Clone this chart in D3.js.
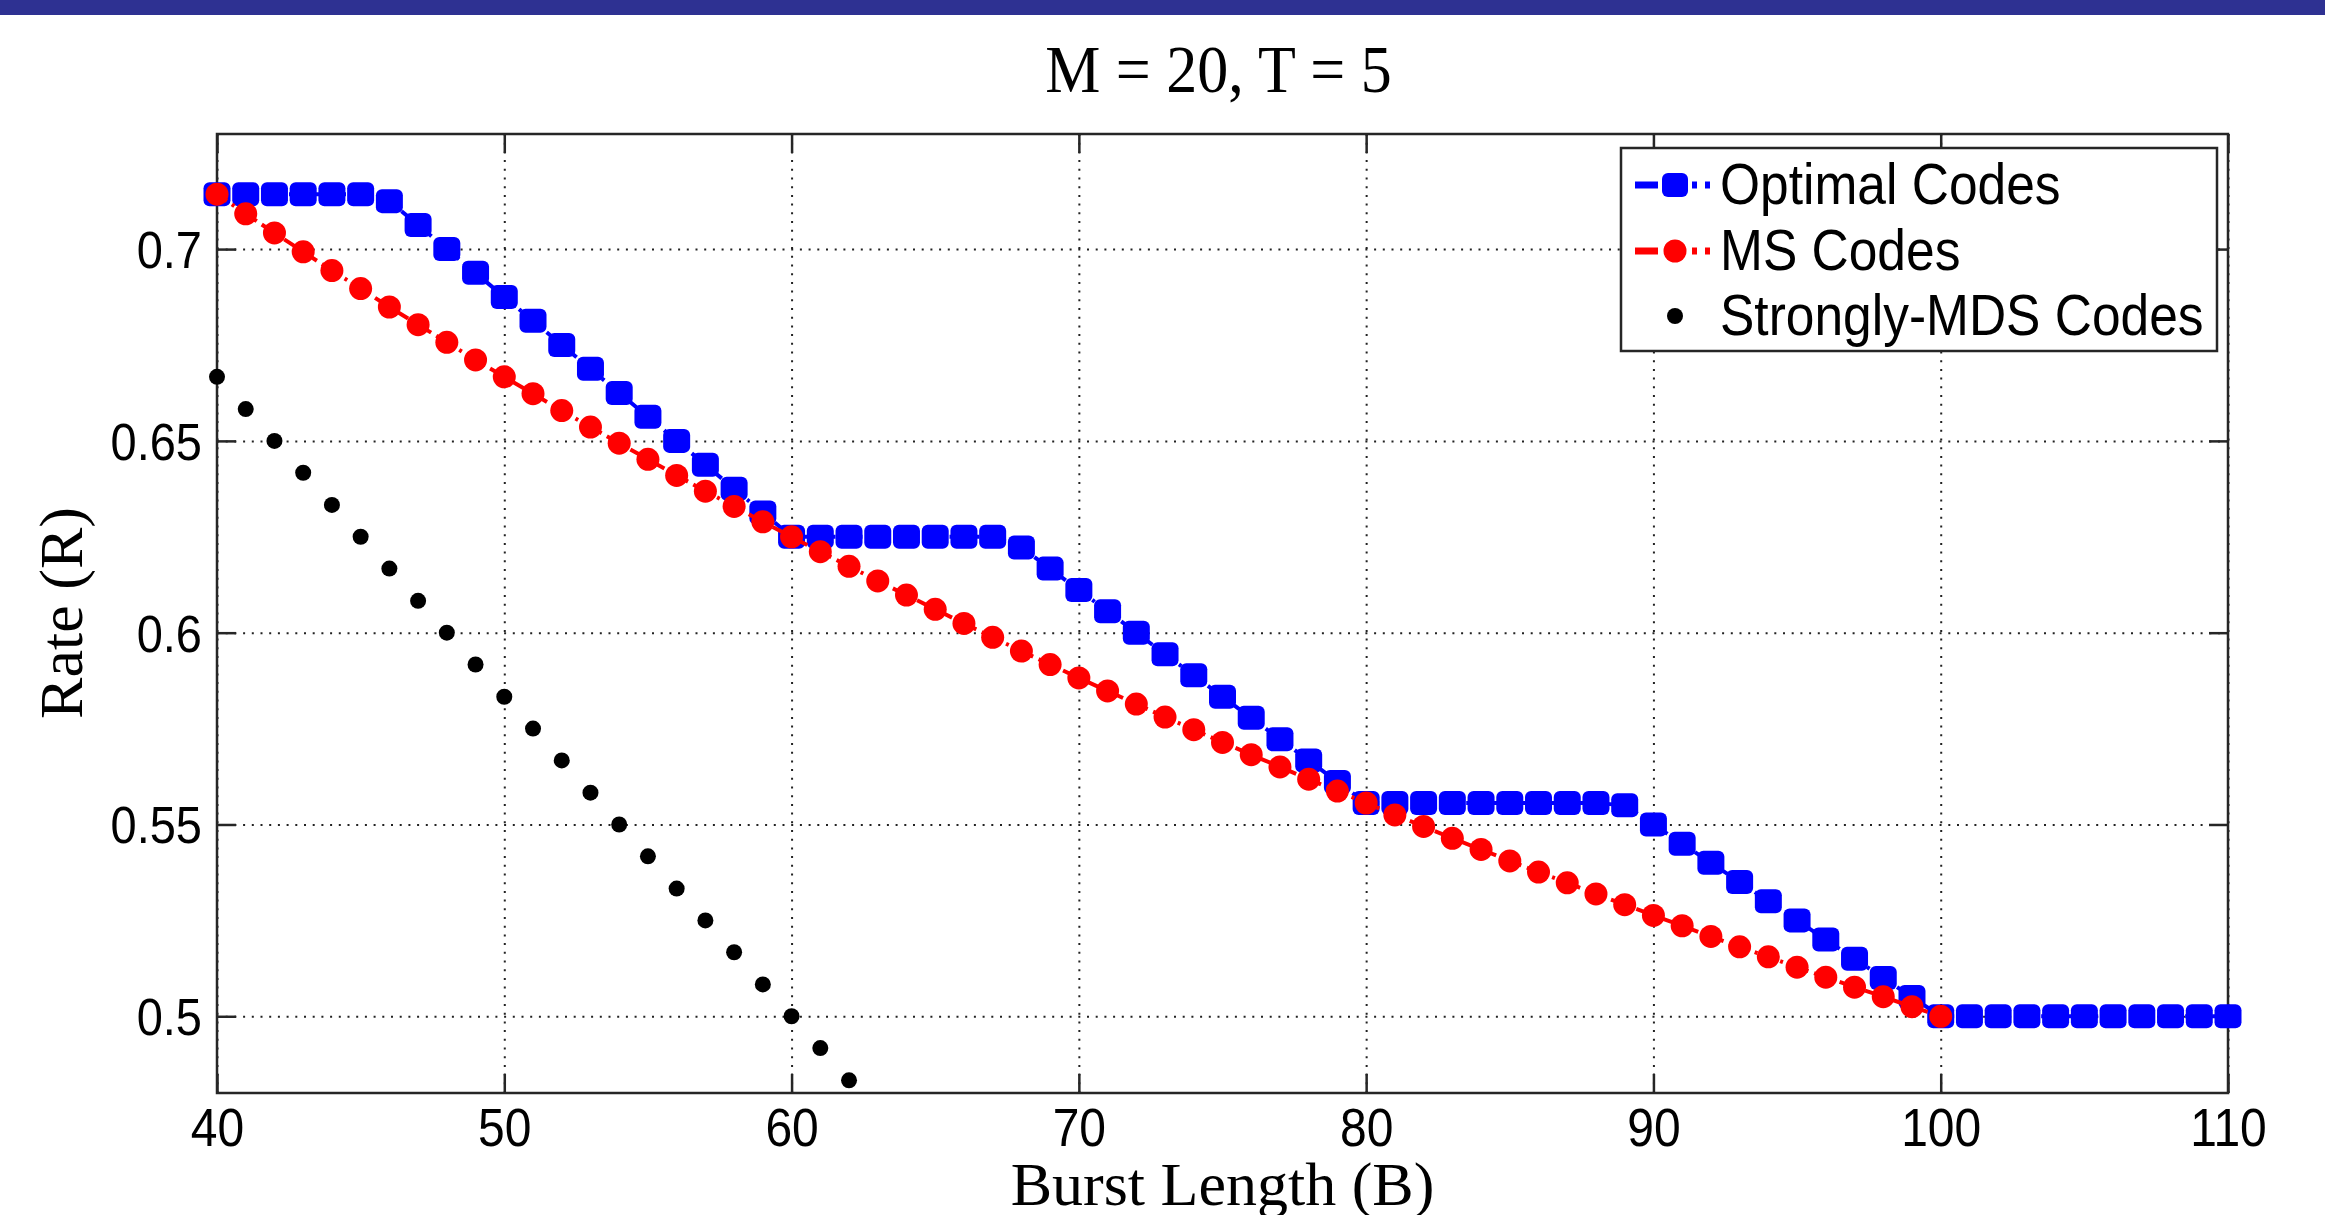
<!DOCTYPE html>
<html>
<head>
<meta charset="utf-8">
<script src="https://cdn.jsdelivr.net/npm/d3@7"></script>
<style>
  html, body { margin: 0; padding: 0; background: #fff; }
  svg { display: block; }
</style>
</head>
<body>
<div id="chart"></div>
<script>
// burst lengths on the x axis
const optimalB = [40, 41, 42, 43, 44, 45, 46, 47, 48, 49, 50, 51, 52, 53, 54, 55, 56, 57, 58, 59, 60,
  61, 62, 63, 64, 65, 66, 67, 68, 69, 70, 71, 72, 73, 74, 75, 76, 77, 78, 79, 80,
  81, 82, 83, 84, 85, 86, 87, 88, 89, 90, 91, 92, 93, 94, 95, 96, 97, 98, 99, 100,
  101, 102, 103, 104, 105, 106, 107, 108, 109, 110];
const optimalRate = [0.7143, 0.7143, 0.7143, 0.7143, 0.7143, 0.7143, 0.7125, 0.7063, 0.7000, 0.6938,
  0.6875, 0.6813, 0.6750, 0.6688, 0.6625, 0.6563, 0.6500, 0.6438, 0.6375, 0.6313,
  0.6250, 0.6250, 0.6250, 0.6250, 0.6250, 0.6250, 0.6250, 0.6250, 0.6222, 0.6167,
  0.6111, 0.6056, 0.6000, 0.5944, 0.5889, 0.5833, 0.5778, 0.5722, 0.5667, 0.5611,
  0.5556, 0.5556, 0.5556, 0.5556, 0.5556, 0.5556, 0.5556, 0.5556, 0.5556, 0.5550,
  0.5500, 0.5450, 0.5400, 0.5350, 0.5300, 0.5250, 0.5200, 0.5150, 0.5100, 0.5050,
  0.5000, 0.5000, 0.5000, 0.5000, 0.5000, 0.5000, 0.5000, 0.5000, 0.5000, 0.5000, 0.5000];

const msB = [40, 41, 42, 43, 44, 45, 46, 47, 48, 49, 50, 51, 52, 53, 54, 55, 56, 57, 58, 59, 60,
  61, 62, 63, 64, 65, 66, 67, 68, 69, 70, 71, 72, 73, 74, 75, 76, 77, 78, 79, 80,
  81, 82, 83, 84, 85, 86, 87, 88, 89, 90, 91, 92, 93, 94, 95, 96, 97, 98, 99, 100];
const msRate = [0.7143, 0.7092, 0.7042, 0.6993, 0.6944, 0.6897, 0.6849, 0.6803, 0.6757, 0.6711,
  0.6667, 0.6623, 0.6579, 0.6536, 0.6494, 0.6452, 0.6410, 0.6369, 0.6329, 0.6289,
  0.6250, 0.6211, 0.6173, 0.6135, 0.6098, 0.6061, 0.6024, 0.5988, 0.5952, 0.5917,
  0.5882, 0.5848, 0.5814, 0.5780, 0.5747, 0.5714, 0.5682, 0.5650, 0.5618, 0.5587,
  0.5556, 0.5525, 0.5495, 0.5464, 0.5435, 0.5405, 0.5376, 0.5348, 0.5319, 0.5291,
  0.5263, 0.5236, 0.5208, 0.5181, 0.5155, 0.5128, 0.5102, 0.5076, 0.5051, 0.5025, 0.5000];

const mdsB = [40, 41, 42, 43, 44, 45, 46, 47, 48, 49, 50, 51, 52, 53, 54, 55, 56, 57, 58, 59, 60, 61, 62];
const mdsRate = [0.6667, 0.6583, 0.6500, 0.6417, 0.6333, 0.6250, 0.6167, 0.6083, 0.6000, 0.5917,
  0.5833, 0.5750, 0.5667, 0.5583, 0.5500, 0.5417, 0.5333, 0.5250, 0.5167, 0.5083,
  0.5000, 0.4917, 0.4833];

const xTicks = [40, 50, 60, 70, 80, 90, 100, 110];
const yTicks = [0.5, 0.55, 0.6, 0.65, 0.7];
const yTickLabels = ["0.5", "0.55", "0.6", "0.65", "0.7"];
const seriesNames = ["Optimal Codes", "MS Codes", "Strongly-MDS Codes"];
const seriesColors = ["#0000ff", "#ff0000", "#000000"];

const W = 2325, H = 1215;
const plot = { left: 217, right: 2228, top: 134, bottom: 1093 };
const sans = "'Liberation Sans', Arial, sans-serif";
const serif = "'Liberation Serif', 'Times New Roman', serif";
const stretch = 1.1; // source figure is slightly stretched vertically

const svg = d3.select("#chart")
  .append("svg")
  .attr("width", W)
  .attr("height", H)
  .attr("viewBox", `0 0 ${W} ${H}`);

// slide banner at the very top
svg.append("rect")
  .attr("x", 0).attr("y", 0)
  .attr("width", W).attr("height", 15)
  .attr("fill", "#2e3192");

const x = d3.scaleLinear().domain([40, 110]).range([plot.left, plot.right]);
const y = d3.scaleLinear().domain([0.48, 0.73]).range([plot.bottom, plot.top]);

const width = plot.right - plot.left;
const height = plot.bottom - plot.top;

const g = svg.append("g");

// dotted grid
g.append("g")
  .attr("transform", `translate(0,${plot.bottom})`)
  .call(d3.axisBottom(x).tickValues(xTicks).tickSize(-height).tickFormat(""))
  .call(s => s.select(".domain").remove())
  .selectAll("line")
  .attr("stroke", "#222")
  .attr("stroke-width", 2)
  .attr("stroke-dasharray", "2,6.7");

g.append("g")
  .attr("transform", `translate(${plot.left},0)`)
  .call(d3.axisLeft(y).tickValues(yTicks).tickSize(-width).tickFormat(""))
  .call(s => s.select(".domain").remove())
  .selectAll("line")
  .attr("stroke", "#222")
  .attr("stroke-width", 2)
  .attr("stroke-dasharray", "2,6.7");

// inner ticks on all four sides
const tickLen = 19;
const axisStyle = s => {
  s.select(".domain").remove();
  s.selectAll(".tick line").attr("stroke", "#262626").attr("stroke-width", 2.5);
};

g.append("g")
  .attr("transform", `translate(0,${plot.bottom})`)
  .call(d3.axisBottom(x).tickValues(xTicks).tickSize(-tickLen).tickFormat(d3.format("d")))
  .call(axisStyle)
  .selectAll("text")
  .attr("y", null).attr("dy", null)
  .attr("transform", `translate(0,53) scale(1,${stretch})`)
  .attr("font-family", sans)
  .attr("font-size", 48)
  .attr("fill", "#000");

g.append("g")
  .attr("transform", `translate(0,${plot.top})`)
  .call(d3.axisTop(x).tickValues(xTicks).tickSize(-tickLen).tickFormat(""))
  .call(axisStyle);

g.append("g")
  .attr("transform", `translate(${plot.left},0)`)
  .call(d3.axisLeft(y).tickValues(yTicks).tickSize(-tickLen)
    .tickFormat((d, i) => yTickLabels[i]))
  .call(axisStyle)
  .selectAll("text")
  .attr("x", null).attr("dy", null)
  .attr("transform", `translate(-15,18.5) scale(1,${stretch})`)
  .attr("font-family", sans)
  .attr("font-size", 47)
  .attr("fill", "#000");

g.append("g")
  .attr("transform", `translate(${plot.right},0)`)
  .call(d3.axisRight(y).tickValues(yTicks).tickSize(-tickLen).tickFormat(""))
  .call(axisStyle);

// plot box
g.append("rect")
  .attr("x", plot.left).attr("y", plot.top)
  .attr("width", width).attr("height", height)
  .attr("fill", "none")
  .attr("stroke", "#262626")
  .attr("stroke-width", 2.5);

const dataLayer = svg.append("g");

const line = d3.line().x(d => x(d[0])).y(d => y(d[1]));

const optimalPts = optimalB.map((b, i) => [b, optimalRate[i]]);
const msPts = msB.map((b, i) => [b, msRate[i]]);
const mdsPts = mdsB.map((b, i) => [b, mdsRate[i]]);

function drawSquareMarkers(sel, pts, color) {
  sel.selectAll(null)
    .data(pts)
    .enter().append("rect")
    .attr("x", d => x(d[0]) - 13.5)
    .attr("y", d => y(d[1]) - 12)
    .attr("width", 27)
    .attr("height", 24)
    .attr("rx", 6)
    .attr("fill", color);
}

function drawCircleMarkers(sel, pts, color, r) {
  sel.selectAll(null)
    .data(pts)
    .enter().append("circle")
    .attr("cx", d => x(d[0]))
    .attr("cy", d => y(d[1]))
    .attr("r", r)
    .attr("fill", color);
}

// optimal codes (blue)
dataLayer.append("path")
  .datum(optimalPts)
  .attr("d", line)
  .attr("fill", "none")
  .attr("stroke", seriesColors[0])
  .attr("stroke-width", 4)
  .attr("stroke-dasharray", "12,6,3,6");
drawSquareMarkers(dataLayer.append("g"), optimalPts, seriesColors[0]);

// MS codes (red)
dataLayer.append("path")
  .datum(msPts)
  .attr("d", line)
  .attr("fill", "none")
  .attr("stroke", seriesColors[1])
  .attr("stroke-width", 4)
  .attr("stroke-dasharray", "12,6,3,6");
drawCircleMarkers(dataLayer.append("g"), msPts, seriesColors[1], 11.5);

// strongly-MDS codes (black dots only)
drawCircleMarkers(dataLayer.append("g"), mdsPts, seriesColors[2], 8);

// legend
const legend = svg.append("g");
const lgBox = { x: 1621, y: 148, w: 596, h: 203 };
legend.append("rect")
  .attr("x", lgBox.x).attr("y", lgBox.y)
  .attr("width", lgBox.w).attr("height", lgBox.h)
  .attr("fill", "#fff")
  .attr("stroke", "#262626")
  .attr("stroke-width", 2.5);

const rowY = [185, 251, 316];
seriesNames.forEach((name, i) => {
  const ry = rowY[i];
  if (i < 2) {
    legend.append("line")
      .attr("x1", 1635).attr("x2", 1658)
      .attr("y1", ry).attr("y2", ry)
      .attr("stroke", seriesColors[i]).attr("stroke-width", 7);
    legend.append("line")
      .attr("x1", 1692).attr("x2", 1713)
      .attr("y1", ry).attr("y2", ry)
      .attr("stroke", seriesColors[i]).attr("stroke-width", 7)
      .attr("stroke-dasharray", "5,8");
    if (i === 0) {
      legend.append("rect")
        .attr("x", 1662).attr("y", ry - 12)
        .attr("width", 26).attr("height", 24).attr("rx", 6)
        .attr("fill", seriesColors[i]);
    } else {
      legend.append("circle")
        .attr("cx", 1675).attr("cy", ry).attr("r", 11.5)
        .attr("fill", seriesColors[i]);
    }
  } else {
    legend.append("circle")
      .attr("cx", 1675).attr("cy", ry).attr("r", 8)
      .attr("fill", seriesColors[i]);
  }
  legend.append("text")
    .attr("transform", `translate(1720,${ry + 19}) scale(1,${stretch})`)
    .attr("font-family", sans)
    .attr("font-size", 51.5)
    .attr("fill", "#000")
    .text(name);
});

// titles
svg.append("text")
  .attr("transform", `translate(${(plot.left + plot.right) / 2 - 4},92) scale(1,1.1)`)
  .attr("text-anchor", "middle")
  .attr("font-family", serif)
  .attr("font-size", 62)
  .attr("fill", "#000")
  .text("M = 20, T = 5");

svg.append("text")
  .attr("x", (plot.left + plot.right) / 2)
  .attr("y", 1205)
  .attr("text-anchor", "middle")
  .attr("font-family", serif)
  .attr("font-size", 62)
  .attr("fill", "#000")
  .text("Burst Length (B)");

svg.append("text")
  .attr("transform", "translate(82,613) rotate(-90)")
  .attr("text-anchor", "middle")
  .attr("font-family", serif)
  .attr("font-size", 62)
  .attr("fill", "#000")
  .text("Rate (R)");
</script>
</body>
</html>
